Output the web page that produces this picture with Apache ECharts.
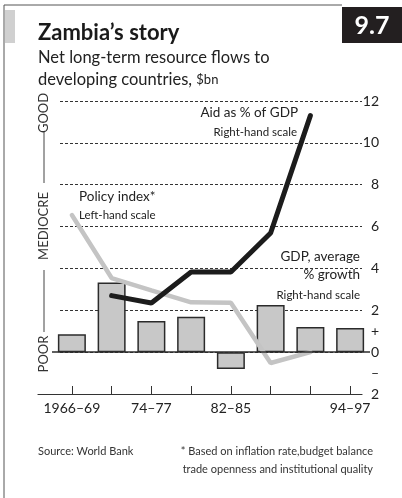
<!DOCTYPE html>
<html>
<head>
<meta charset="utf-8">
<script src="https://cdn.jsdelivr.net/npm/echarts@6/dist/echarts.min.js"></script>
<style>
  html, body { margin: 0; padding: 0; background: #fff; }
  #main { width: 402px; height: 498px; }
</style>
</head>
<body>
<div id="main"></div>
<script>
// periods on the x axis
const periods = ['1966–69', '70–73', '74–77', '78–81', '82–85', '86–89', '90–93', '94–97'];
const shownPeriods = [0, 2, 4, 7];
// GDP, average % growth (bars, right-hand scale)
const gdpGrowth = [0.85, 3.33, 1.49, 1.69, -0.8, 2.25, 1.2, 1.15];
// Aid as % of GDP (right-hand scale)
const aidPct = [null, 2.7, 2.35, 3.83, 3.83, 5.69, 11.3, null];
// Policy index (left-hand scale, drawn on the same frame)
const policyIndex = [6.55, 3.54, 2.95, 2.38, 2.36, -0.52, 0.0, null];
// right-hand tick labels
const rightTicks = [-2, -1, 0, 1, 2, 4, 6, 8, 10, 12];
const rightTickLabels = ['2', '–', '0', '+', '2', '4', '6', '8', '10', '12'];

const FONT = 'Lato, "Open Sans", sans-serif';
const chart = echarts.init(document.getElementById('main'));

const option = {
  animation: false,
  textStyle: { fontFamily: FONT },
  grid: [
    { left: 52, width: 318, top: 101, height: 293 },   // bars + lines
    { left: 38, width: 324, top: 101, height: 293 },   // base line
    { left: 60, width: 302, top: 101, height: 293 }    // gridlines + right labels
  ],
  xAxis: [
    {
      gridIndex: 0, type: 'category', data: periods,
      axisLine: { show: false, onZero: false },
      axisTick: { show: true, inside: true, length: 8, alignWithLabel: true, interval: 0,
        lineStyle: { color: '#333', width: 1 } },
      axisLabel: {
        interval: (i) => shownPeriods.indexOf(i) >= 0,
        margin: 7, color: '#222', fontSize: 14, fontFamily: FONT
      }
    },
    {
      gridIndex: 1, type: 'value', min: 0, max: 1,
      axisLine: { show: true, onZero: false, lineStyle: { color: '#333', width: 1.2 } },
      axisTick: { show: false }, axisLabel: { show: false }, splitLine: { show: false }
    },
    { gridIndex: 2, type: 'value', show: false }
  ],
  yAxis: [
    { gridIndex: 0, min: -2, max: 12, show: false },
    { gridIndex: 1, min: -2, max: 12, show: false },
    {
      gridIndex: 2, position: 'left', min: -2, max: 12, interval: 2,
      axisLine: { show: false }, axisTick: { show: false }, axisLabel: { show: false },
      splitLine: { show: true, lineStyle: { color: '#333', width: 1, type: [3, 2] } }
    },
    {
      gridIndex: 2, position: 'right', min: -2, max: 12, interval: 1,
      axisLine: { show: false }, axisTick: { show: false }, splitLine: { show: false },
      axisLabel: {
        align: 'right', margin: 17, color: '#222', fontSize: 14, fontFamily: FONT,
        formatter: (v) => {
          const k = rightTicks.indexOf(v);
          return k >= 0 ? rightTickLabels[k] : '';
        }
      }
    }
  ],
  series: [
    {
      type: 'bar', name: 'GDP growth', xAxisIndex: 0, yAxisIndex: 0,
      data: gdpGrowth, barWidth: 28, z: 2,
      itemStyle: { color: '#c8c8c8', borderColor: '#2b2b2b', borderWidth: 1.5 },
      markLine: {
        silent: true, symbol: 'none', label: { show: false },
        lineStyle: { color: '#2b2b2b', width: 1.5, type: 'solid' },
        data: [{ yAxis: 0 }]
      }
    },
    {
      type: 'line', name: 'Policy index', xAxisIndex: 0, yAxisIndex: 0,
      data: policyIndex, showSymbol: false, symbol: 'none', z: 3,
      lineStyle: { color: '#c4c4c4', width: 4.5, cap: 'round' }
    },
    {
      type: 'line', name: 'Aid', xAxisIndex: 0, yAxisIndex: 0,
      data: aidPct, showSymbol: false, symbol: 'none', z: 4,
      lineStyle: { color: '#1c1c1c', width: 5, cap: 'round' }
    }
  ],
  graphic: [
    // frame
    { type: 'line', z: 50, shape: { x1: 4, y1: 5, x2: 4, y2: 498 }, style: { stroke: '#555', lineWidth: 1 } },
    { type: 'line', z: 50, shape: { x1: 4, y1: 5, x2: 342, y2: 5 }, style: { stroke: '#555', lineWidth: 1 } },
    { type: 'rect', z: 50, shape: { x: 5, y: 10, width: 10, height: 33 }, style: { fill: '#d0d0d0' } },
    { type: 'rect', z: 50, shape: { x: 342, y: 7, width: 60, height: 36 }, style: { fill: '#231f20' } },
    { type: 'text', z: 51, style: { text: '9.7', x: 372, y: 26, align: 'center', verticalAlign: 'middle',
        font: 'bold 25px ' + FONT, fill: '#fff' } },
    // title block
    { type: 'text', z: 51, style: { text: 'Zambia’s story', x: 38, y: 33, verticalAlign: 'middle',
        font: 'bold 22px ' + FONT, fill: '#1a1a1a' } },
    { type: 'text', z: 51, style: { text: 'Net long-term resource flows to', x: 38, y: 58, verticalAlign: 'middle',
        font: '16.5px ' + FONT, fill: '#222' } },
    { type: 'text', z: 51, style: { text: 'developing countries, {s|$bn}', x: 38, y: 80, verticalAlign: 'middle',
        font: '16.5px ' + FONT, fill: '#222', rich: { s: { fontSize: 13, fontFamily: FONT, fill: '#222' } } } },
    // left-hand scale words
    { type: 'text', z: 51, rotation: Math.PI / 2, x: 44, y: 113, style: { text: 'GOOD', x: 0, y: 0,
        align: 'center', verticalAlign: 'middle', font: '13px ' + FONT, fill: '#333' } },
    { type: 'text', z: 51, rotation: Math.PI / 2, x: 44, y: 226, style: { text: 'MEDIOCRE', x: 0, y: 0,
        align: 'center', verticalAlign: 'middle', font: '13px ' + FONT, fill: '#333' } },
    { type: 'text', z: 51, rotation: Math.PI / 2, x: 44, y: 354, style: { text: 'POOR', x: 0, y: 0,
        align: 'center', verticalAlign: 'middle', font: '13px ' + FONT, fill: '#333' } },
    { type: 'line', z: 50, shape: { x1: 44, y1: 131, x2: 44, y2: 183 }, style: { stroke: '#444', lineWidth: 1 } },
    { type: 'line', z: 50, shape: { x1: 44, y1: 270, x2: 44, y2: 332 }, style: { stroke: '#444', lineWidth: 1 } },
    // series notes
    { type: 'text', z: 51, style: { text: 'Aid as % of GDP', x: 298, y: 113, align: 'right', verticalAlign: 'middle',
        font: '13.5px ' + FONT, fill: '#222' } },
    { type: 'text', z: 51, style: { text: 'Right-hand scale', x: 297, y: 132, align: 'right', verticalAlign: 'middle',
        font: '11.5px ' + FONT, fill: '#222' } },
    { type: 'text', z: 51, style: { text: 'Policy index*', x: 79, y: 197, verticalAlign: 'middle',
        font: '13.5px ' + FONT, fill: '#222' } },
    { type: 'text', z: 51, style: { text: 'Left-hand scale', x: 79, y: 215, verticalAlign: 'middle',
        font: '11.5px ' + FONT, fill: '#222' } },
    { type: 'text', z: 51, style: { text: 'GDP, average', x: 360, y: 257, align: 'right', verticalAlign: 'middle',
        font: '13.5px ' + FONT, fill: '#222' } },
    { type: 'text', z: 51, style: { text: '% growth', x: 360, y: 275, align: 'right', verticalAlign: 'middle',
        font: '13.5px ' + FONT, fill: '#222' } },
    { type: 'text', z: 51, style: { text: 'Right-hand scale', x: 360, y: 295, align: 'right', verticalAlign: 'middle',
        font: '11.5px ' + FONT, fill: '#222' } },
    // footnotes
    { type: 'text', z: 51, style: { text: 'Source: World Bank', x: 38, y: 451, verticalAlign: 'middle',
        font: '11px ' + FONT, fill: '#333' } },
    { type: 'text', z: 51, style: { text: '* Based on inflation rate,budget balance', x: 373, y: 451, align: 'right',
        verticalAlign: 'middle', font: '11px ' + FONT, fill: '#333' } },
    { type: 'text', z: 51, style: { text: 'trade openness and institutional quality', x: 373, y: 469, align: 'right',
        verticalAlign: 'middle', font: '11px ' + FONT, fill: '#333' } }
  ]
};

chart.setOption(option);
</script>
</body>
</html>
